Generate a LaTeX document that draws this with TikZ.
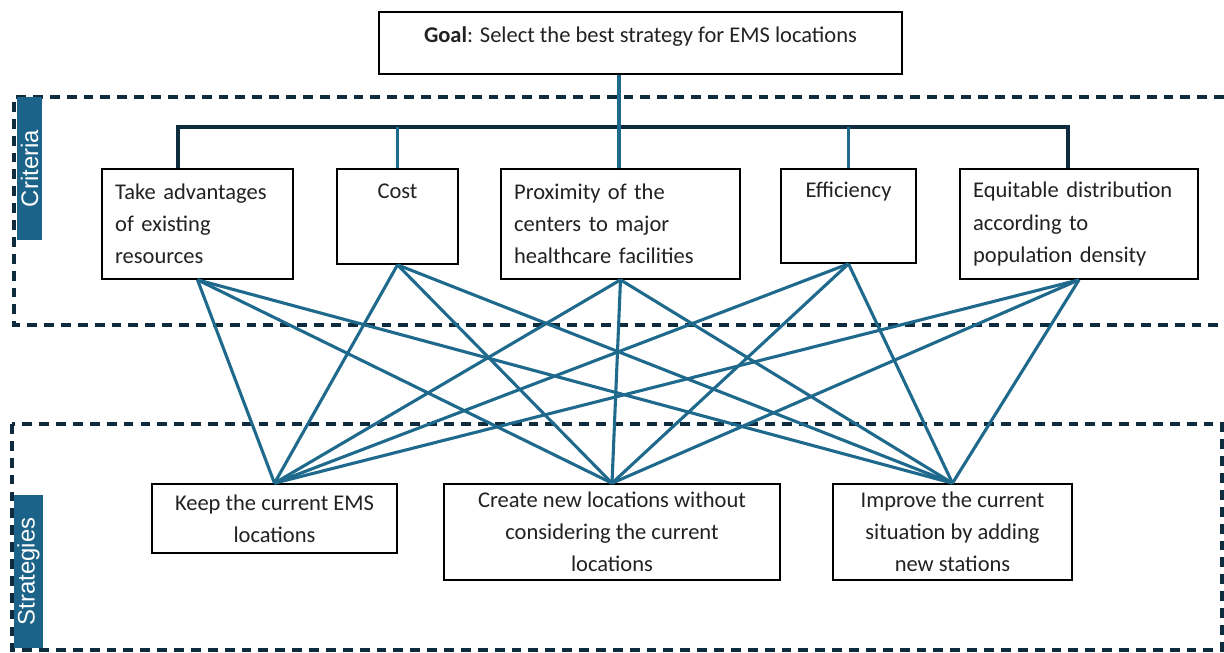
\documentclass[tikz,border=0pt]{standalone}
\usepackage{fontspec}
\setmainfont{Carlito}
\newfontfamily\tagfont{Liberation Sans}
\definecolor{linkblue}{HTML}{1F6A8C}
\definecolor{navy}{HTML}{0F2C3E}
\definecolor{tagblue}{HTML}{1C6389}
\definecolor{ink}{HTML}{222222}

\begin{document}
\begin{tikzpicture}[
        x=0.025cm, y=-0.025cm,
        box/.style={draw=black, line width=1.2pt, fill=white, text=ink, inner xsep=0.33cm, inner ysep=0pt, font=\fontsize{16}{22.8}\selectfont},
        crit/.style={box, minimum height=2.75cm, align=left},
        topline/.style={text height=0.4cm, text depth=1.3cm},
        strat/.style={box, align=center},
        link/.style={draw=linkblue, line width=2.2pt},
        bus/.style={draw=navy, line width=2.8pt},
        zone/.style={draw=navy, line width=2.5pt, dash pattern=on 7pt off 5pt},
        tag/.style={fill=tagblue, text=white, rotate=90, inner sep=0pt, font=\tagfont\fontsize{17}{20}\selectfont}
        ]
        \useasboundingbox (0,0) rectangle (1224,652);

        % dashed zones
        \draw[zone] (1224,97) -- (14,97) -- (14,325) -- (1224,325);
        \draw[zone] (12,424) rectangle (1222,650);
        \node[tag, minimum width=3.575cm, minimum height=0.625cm] (crittag) at (29.5,168.5) {Criteria};
        \node[tag, minimum width=3.825cm, minimum height=0.725cm] (strattag) at (28.5,571.5) {Strategies};

        % goal
        \node[box, minimum width=13.075cm, minimum height=1.55cm, text height=0.4cm, text depth=0.45cm] (goal) at (640.5,43) {\textbf{Goal}: Select the best strategy for EMS locations};

        % criteria
        \node[crit, text width=4.115cm] (take) at (197.5,224) {Take advantages\\of existing\\resources};
        \node[box, topline, align=center, minimum width=3.025cm, minimum height=2.375cm] (cost) at (397.5,216.5) {Cost};
        \node[crit, text width=5.315cm] (prox) at (620.5,224) {Proximity of the\\centers to major\\healthcare facilities};
        \node[box, topline, align=center, minimum width=3.375cm, minimum height=2.35cm] (eff) at (848.5,216) {Efficiency};
        \node[crit, text width=5.29cm] (equi) at (1079,224) {Equitable distribution\\according to\\population density};

        % strategies
        \node[strat, minimum width=6.125cm, minimum height=1.725cm] (keep) at (274.5,518.5) {Keep the current EMS\\locations};
        \node[strat, minimum width=8.4cm, minimum height=2.4cm] (create) at (612,532) {Create new locations without\\considering the current\\locations};
        \node[strat, minimum width=5.975cm, minimum height=2.4cm] (impr) at (952.5,532) {Improve the current\\situation by adding\\new stations};

        % hierarchy
        \coordinate (hub) at (619,127);
        \draw[bus] ([xshift=-0.4875cm]take.north) |- (hub) -| ([xshift=-0.275cm]equi.north);
        \draw[link] (goal.south -| hub) -- (prox.north -| hub);
        \draw[link] (cost.north) -- (cost.north |- hub);
        \draw[link] (eff.north) -- (eff.north |- hub);

        \foreach \c in {take,cost,prox,eff,equi}
            \foreach \s in {keep,create,impr}
                \draw[link] (\c.south) -- (\s.north);
\end{tikzpicture}
\end{document}
